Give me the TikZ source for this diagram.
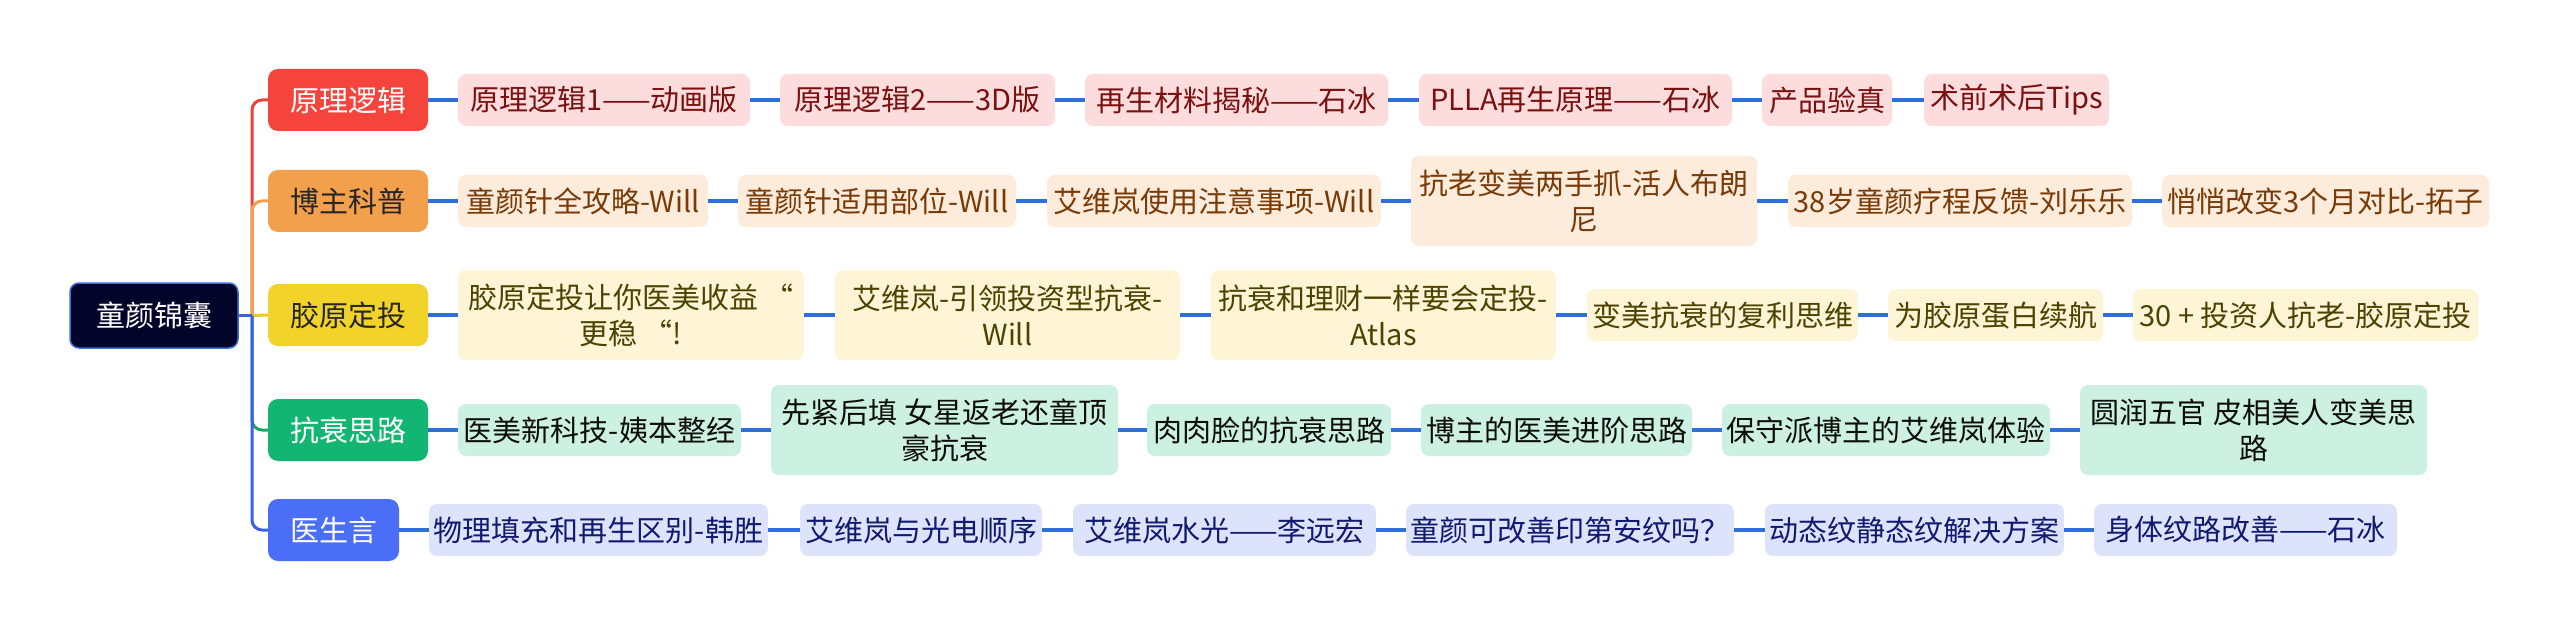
\documentclass[tikz,border=0pt]{standalone}
\usepackage{fontspec}
\setmainfont{Noto Sans CJK SC}
\usetikzlibrary{calc}
\definecolor{rootfill}{HTML}{02042A}
\definecolor{rootline}{HTML}{3A6FD8}
\definecolor{aRed}{HTML}{F4443C}
\definecolor{aOrange}{HTML}{F3A04C}
\definecolor{aYellow}{HTML}{F2D32A}
\definecolor{aGreen}{HTML}{12B672}
\definecolor{aBlue}{HTML}{4A6EF5}
\definecolor{lRed}{HTML}{E8443C}
\definecolor{lOrange}{HTML}{F0A050}
\definecolor{lYellow}{HTML}{EDCB22}
\definecolor{lGreen}{HTML}{16A864}
\definecolor{lBlue}{HTML}{3C60E6}
\definecolor{conn}{HTML}{2E6FD9}
\definecolor{fA}{HTML}{FCDCDC}\definecolor{tA}{HTML}{7B1010}
\definecolor{fB}{HTML}{FDEBDC}\definecolor{tB}{HTML}{7A3A05}
\definecolor{fC}{HTML}{FDF5D5}\definecolor{tC}{HTML}{4D4200}
\definecolor{fD}{HTML}{CCF0E1}\definecolor{tD}{HTML}{0D0D0D}
\definecolor{fE}{HTML}{DCE3FA}\definecolor{tE}{HTML}{111A70}
\tikzset{
  txt/.style={font=\fontsize{29}{36}\selectfont, align=center, inner sep=0pt},
  rootbox/.style={txt, rounded corners=9pt, fill=rootfill, draw=rootline, line width=1.5pt, text=white, minimum width=168pt, minimum height=65pt},
  mainbox/.style={txt, rounded corners=10pt, minimum width=160pt, minimum height=62pt},
  kid/.style={txt, rounded corners=8pt, minimum height=52pt},
  tall/.style={minimum height=90pt},
  kA/.style={kid, fill=fA, text=tA},
  kB/.style={kid, fill=fB, text=tB},
  kC/.style={kid, fill=fC, text=tC},
  kD/.style={kid, fill=fD, text=tD},
  kE/.style={kid, fill=fE, text=tE},
  link/.style={draw=conn, line width=3.6pt},
  branch/.style={line width=3pt, rounded corners=10pt},
}
\begin{document}
\begin{tikzpicture}[x=1pt,y=-1pt]
\useasboundingbox[fill=white] (0,0) rectangle (2560,631);
% root and main topics
\node[rootbox] (root) at (154,315.5) {童颜锦囊};
\node[mainbox, fill=aRed, text=white] (A) at (348,100) {原理逻辑};
\node[mainbox, fill=aOrange, text=black!85] (B) at (348,201) {博主科普};
\node[mainbox, fill=aYellow, text=black!85] (C) at (348,315) {胶原定投};
\node[mainbox, fill=aGreen, text=white] (D) at (348,430) {抗衰思路};
\node[mainbox, fill=aBlue, text=white, minimum width=131pt] (E) at (333.5,530) {医生言};
\coordinate (tk) at (252,315.5);
\draw[branch, draw=lRed] (tk) |- (A.west);
\draw[branch, draw=lOrange] (tk) |- (B.west);
\draw[branch, draw=lYellow] (tk) -- (C.west);
\draw[branch, draw=lGreen] (tk) |- (D.west);
\draw[branch, draw=lBlue] (tk) |- (E.west);
\draw[line width=3pt, draw=lBlue] (root.east) -- (tk);
% row 1
\node[kA, minimum width=292pt] (a1) at (604,100) {原理逻辑1——动画版};
\node[kA, minimum width=275pt] (a2) at (917.5,100) {原理逻辑2——3D版};
\node[kA, minimum width=303pt] (a3) at (1236.5,100) {再生材料揭秘——石冰};
\node[kA, minimum width=313pt] (a4) at (1575.5,100) {PLLA再生原理——石冰};
\node[kA, minimum width=130pt] (a5) at (1827,100) {产品验真};
\node[kA, minimum width=185pt] (a6) at (2016.5,100) {术前术后Tips};
% row 2
\node[kB, minimum width=250pt] (b1) at (583,201) {童颜针全攻略-Will};
\node[kB, minimum width=278pt] (b2) at (877,201) {童颜针适用部位-Will};
\node[kB, minimum width=334pt] (b3) at (1214,201) {艾维岚使用注意事项-Will};
\node[kB, tall, minimum width=346pt] (b4) at (1584,201) {抗老变美两手抓-活人布朗\\尼};
\node[kB, minimum width=344pt] (b5) at (1960,201) {38岁童颜疗程反馈-刘乐乐};
\node[kB, minimum width=327pt] (b6) at (2325.5,201) {悄悄改变3个月对比-拓子};
% row 3
\node[kC, tall, minimum width=346pt] (c1) at (631,315) {胶原定投让你医美收益\kern0.2em“\\更稳\kern0.2em“!};
\node[kC, tall, minimum width=345pt] (c2) at (1007.5,315) {艾维岚-引领投资型抗衰-\\Will};
\node[kC, tall, minimum width=345pt] (c3) at (1383.5,315) {抗衰和理财一样要会定投-\\Atlas};
\node[kC, minimum width=271pt] (c4) at (1722.5,315) {变美抗衰的复利思维};
\node[kC, minimum width=215pt] (c5) at (1995.5,315) {为胶原蛋白续航};
\node[kC, minimum width=345pt] (c6) at (2305.5,315) {30 + 投资人抗老-胶原定投};
% row 4
\node[kD, minimum width=283pt] (d1) at (599.5,430) {医美新科技-姨本整经};
\node[kD, tall, minimum width=347pt] (d2) at (944.5,430) {先紧后填 女星返老还童顶\\豪抗衰};
\node[kD, minimum width=244pt] (d3) at (1269,430) {肉肉脸的抗衰思路};
\node[kD, minimum width=271pt] (d4) at (1556.5,430) {博主的医美进阶思路};
\node[kD, minimum width=328pt] (d5) at (1886,430) {保守派博主的艾维岚体验};
\node[kD, tall, minimum width=347pt] (d6) at (2253.5,430) {圆润五官 皮相美人变美思\\路};
% row 5
\node[kE, minimum width=339pt] (e1) at (598.5,530) {物理填充和再生区别-韩胜};
\node[kE, minimum width=242pt] (e2) at (921,530) {艾维岚与光电顺序};
\node[kE, minimum width=303pt] (e3) at (1224.5,530) {艾维岚水光——李远宏};
\node[kE, minimum width=328pt] (e4) at (1570,530) {童颜可改善印第安纹吗？};
\node[kE, minimum width=299pt] (e5) at (1914.5,530) {动态纹静态纹解决方案};
\node[kE, minimum width=303pt] (e6) at (2245.5,530) {身体纹路改善——石冰};
% connectors
\foreach \r/\p in {a/A,b/B,c/C,d/D,e/E}{
  \draw[link] (\p.east) -- (\r1.west);
  \draw[link] (\r1.east) -- (\r2.west);
  \draw[link] (\r2.east) -- (\r3.west);
  \draw[link] (\r3.east) -- (\r4.west);
  \draw[link] (\r4.east) -- (\r5.west);
  \draw[link] (\r5.east) -- (\r6.west);
}
\end{tikzpicture}
\end{document}
